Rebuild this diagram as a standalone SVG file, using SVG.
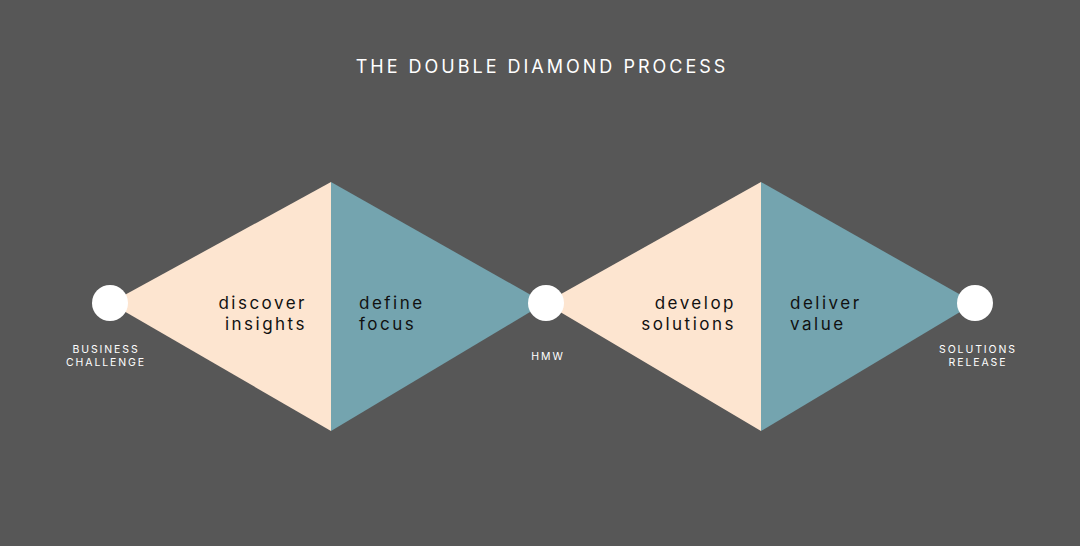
<svg xmlns="http://www.w3.org/2000/svg" width="1080" height="546" viewBox="0 0 1080 546">
<style>
.title{font-family:"Inter","Open Sans",sans-serif;font-size:18px;fill:#ffffff;letter-spacing:3px;text-anchor:middle}
.phase{font-family:"Inter","Open Sans",sans-serif;font-size:17px;fill:#111111;letter-spacing:2.5px}
.small{font-family:"Inter","Open Sans",sans-serif;font-size:10.5px;fill:#ffffff;letter-spacing:1.9px;text-anchor:middle}
.beige{fill:#fde5d0}
.teal{fill:#74a4af}
.dot{fill:#ffffff}
</style>
<rect width="1080" height="546" fill="#575757"/>
<text class="title" x="542" y="73">THE DOUBLE DIAMOND PROCESS</text>
<g id="discover">
<polygon class="beige" points="110,303 331,182 331,431"/>
<text class="phase" x="307" y="309" text-anchor="end">discover</text>
<text class="phase" x="307" y="330" text-anchor="end">insights</text>
</g>
<g id="define">
<polygon class="teal" points="331,182 331,431 545,303"/>
<text class="phase" x="359" y="309">define</text>
<text class="phase" x="359" y="330">focus</text>
</g>
<g id="develop">
<polygon class="beige" points="545,303 761,182 761,431"/>
<text class="phase" x="736" y="309" text-anchor="end">develop</text>
<text class="phase" x="736" y="330" text-anchor="end">solutions</text>
</g>
<g id="deliver">
<polygon class="teal" points="761,182 761,431 975,303"/>
<text class="phase" x="790" y="309">deliver</text>
<text class="phase" x="790" y="330">value</text>
</g>
<g id="connectors"></g>
<g id="business-challenge">
<circle class="dot" cx="110" cy="303" r="18"/>
<text class="small" x="106" y="353">BUSINESS</text>
<text class="small" x="106" y="366">CHALLENGE</text>
</g>
<g id="hmw">
<circle class="dot" cx="546" cy="303" r="18"/>
<text class="small" x="548" y="360">HMW</text>
</g>
<g id="solutions-release">
<circle class="dot" cx="975" cy="303" r="18"/>
<text class="small" x="978" y="353">SOLUTIONS</text>
<text class="small" x="978" y="366">RELEASE</text>
</g>
</svg>
